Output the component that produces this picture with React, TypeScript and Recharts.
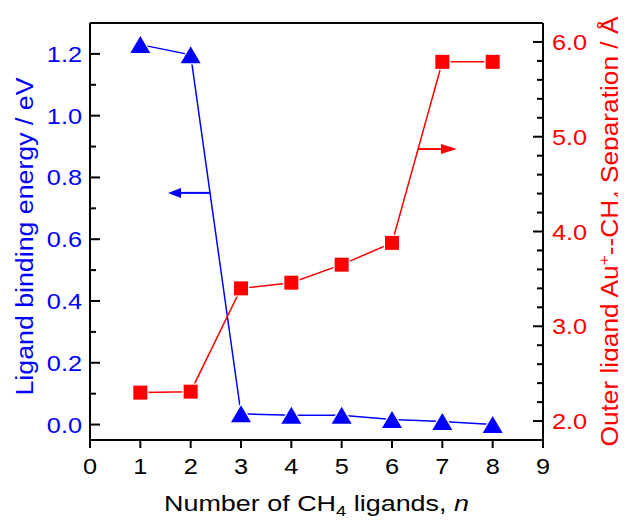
import React from "react";
import { ComposedChart, Line, XAxis, YAxis, ReferenceLine } from "recharts";

const nValues = [1, 2, 3, 4, 5, 6, 7, 8];
const bindingEnergy = [1.23, 1.197, 0.035, 0.03, 0.03, 0.016, 0.01, 0.0];
const separation = [2.3, 2.31, 3.4, 3.46, 3.65, 3.88, 5.79, 5.79];

const xTicks = [0, 1, 2, 3, 4, 5, 6, 7, 8, 9];
const leftMajor = [0.0, 0.2, 0.4, 0.6, 0.8, 1.0, 1.2];
const leftMinor = [0.1, 0.3, 0.5, 0.7, 0.9, 1.1];
const rightMajor = [2.0, 3.0, 4.0, 5.0, 6.0];
const rightMinor = [2.2, 2.4, 2.6, 2.8, 3.2, 3.4, 3.6, 3.8, 4.2, 4.4, 4.6, 4.8, 5.2, 5.4, 5.6, 5.8];

const leftDomain: [number, number] = [-0.05, 1.3];
const rightDomain: [number, number] = [1.8, 6.2];

const blueArrow = { y: 0.75, from: 2.385, to: 1.55 };
const redArrow = { y: 4.87, from: 6.52, to: 7.29 };

const data = nValues.map((n, i) => ({ n, be: bindingEnergy[i], sep: separation[i] }));

const FONT = "'Liberation Sans', Arial, sans-serif";
const BLUE = "#0000FF";
const RED = "#FF0000";
const FS = 22;
const SX = 1.15;
const TM = 8;

const isIn = (arr: number[], v: number) => arr.some((a) => Math.abs(a - v) < 1e-6);

const LeftTick = (props: any) => {
  const { x, y, payload } = props;
  const v = payload.value as number;
  const major = isIn(leftMajor, v);
  const ax = x + TM;
  return (
    <g>
      <line x1={ax} x2={ax + (major ? 10 : 6)} y1={y} y2={y} stroke="#000" strokeWidth={2} />
      {major && (
        <text transform={`translate(${x},${y + 8}) scale(${SX},1)`} textAnchor="end" fill={BLUE} fontSize={FS} fontFamily={FONT}>
          {v.toFixed(1)}
        </text>
      )}
    </g>
  );
};

const RightTick = (props: any) => {
  const { x, y, payload } = props;
  const v = payload.value as number;
  const major = isIn(rightMajor, v);
  const ax = x - TM - 1;
  return (
    <g>
      <line x1={ax} x2={ax - (major ? 10 : 6)} y1={y} y2={y} stroke="#000" strokeWidth={2} />
      {major && (
        <text transform={`translate(${x},${y + 8}) scale(${SX},1)`} textAnchor="start" fill={RED} fontSize={FS} fontFamily={FONT}>
          {v.toFixed(1)}
        </text>
      )}
    </g>
  );
};

const BottomTick = (props: any) => {
  const { x, y, payload } = props;
  return (
    <text transform={`translate(${x},${y + 16}) scale(${SX},1)`} textAnchor="middle" fill="#000" fontSize={FS} fontFamily={FONT}>
      {String(payload.value)}
    </text>
  );
};

const Triangle = (props: any) => {
  const { cx, cy } = props;
  if (cx == null || cy == null) return <g />;
  const w = 10, h = 8.5;
  return (
    <polygon
      points={`${cx},${cy - h} ${cx - w},${cy + h} ${cx + w},${cy + h}`}
      fill={BLUE}
      stroke="#fff"
      strokeWidth={2.5}
      paintOrder="stroke"
    />
  );
};

const Square = (props: any) => {
  const { cx, cy } = props;
  if (cx == null || cy == null) return <g />;
  const s = 7;
  return (
    <rect x={cx - s} y={cy - s} width={2 * s} height={2 * s} fill={RED} stroke="#fff" strokeWidth={2.5} paintOrder="stroke" />
  );
};

const arrowShape = (color: string, headLen: number, headW: number) => (p: any) => {
  const { x1, y1, x2, y2 } = p;
  const dir = x2 > x1 ? 1 : -1;
  const bx = x2 - dir * headLen;
  return (
    <g>
      <line x1={x1} y1={y1} x2={bx} y2={y2} stroke={color} strokeWidth={2} />
      <polygon points={`${x2},${y2} ${bx},${y2 - headW} ${bx},${y2 + headW}`} fill={color} />
    </g>
  );
};

const XLabel = (props: any) => {
  const { viewBox } = props;
  const cx = viewBox.x + viewBox.width / 2;
  const y = viewBox.y + 71;
  return (
    <text x={cx} y={y} textAnchor="middle" fontSize={FS} fontFamily={FONT} fill="#000" textLength={305} lengthAdjust="spacingAndGlyphs">
      Number of CH
      <tspan dy={5} fontSize={15}>4</tspan>
      <tspan dy={-5}> ligands,  </tspan>
      <tspan fontStyle="italic">n</tspan>
    </text>
  );
};

const LeftLabel = (props: any) => {
  const { viewBox } = props;
  const x = viewBox.x + 25;
  const y = viewBox.y + viewBox.height / 2 + 5;
  return (
    <text x={x} y={y} transform={`rotate(-90, ${x}, ${y})`} textAnchor="middle" fontSize={23} fontFamily={FONT} fill={BLUE} textLength={318} lengthAdjust="spacingAndGlyphs">
      Ligand binding energy / eV
    </text>
  );
};

const RightLabel = (props: any) => {
  const { viewBox } = props;
  const x = viewBox.x + 75;
  const y = viewBox.y + viewBox.height / 2;
  return (
    <text x={x} y={y} transform={`rotate(-90, ${x}, ${y})`} textAnchor="middle" fontSize={23} fontFamily={FONT} fill={RED} textLength={430} lengthAdjust="spacingAndGlyphs">
      Outer ligand Au
      <tspan dy={-9} fontSize={15}>+</tspan>
      <tspan dy={9}>--CH</tspan>
      <tspan dy={6} fontSize={15}>4</tspan>
      <tspan dy={-6}> Separation / Å</tspan>
    </text>
  );
};

export default function App() {
  return (
    <ComposedChart width={618} height={512} data={data} margin={{ top: 15, right: 0, bottom: 0, left: 0 }}>
      <XAxis
        dataKey="n"
        type="number"
        domain={[0, 9]}
        ticks={xTicks}
        interval={0}
        tickSize={8}
        tickMargin={10}
        height={80}
        axisLine={{ stroke: "#000", strokeWidth: 2 }}
        tickLine={{ stroke: "#000", strokeWidth: 2 }}
        tick={<BottomTick />}
        label={<XLabel />}
      />
      <YAxis
        yAxisId="left"
        orientation="left"
        domain={leftDomain}
        allowDataOverflow
        ticks={[...leftMajor, ...leftMinor].sort((a, b) => a - b)}
        interval={0}
        width={82}
        tickSize={0}
        tickMargin={TM}
        tickLine={false}
        axisLine={{ stroke: "#000", strokeWidth: 2 }}
        tick={<LeftTick />}
        label={<LeftLabel />}
      />
      <YAxis
        yAxisId="right"
        orientation="right"
        domain={rightDomain}
        allowDataOverflow
        ticks={[...rightMajor, ...rightMinor].sort((a, b) => a - b)}
        interval={0}
        width={83}
        tickSize={0}
        tickMargin={TM + 1}
        tickLine={false}
        axisLine={{ stroke: "#000", strokeWidth: 2 }}
        tick={<RightTick />}
        label={<RightLabel />}
      />
      <ReferenceLine yAxisId="left" y={leftDomain[1]} stroke="#000" strokeWidth={2} />
      <Line
        yAxisId="left"
        dataKey="be"
        stroke={BLUE}
        strokeWidth={1.5}
        dot={<Triangle />}
        activeDot={false}
        isAnimationActive={false}
      />
      <Line
        yAxisId="right"
        dataKey="sep"
        stroke={RED}
        strokeWidth={1.5}
        dot={<Square />}
        activeDot={false}
        isAnimationActive={false}
      />
      <ReferenceLine
        yAxisId="left"
        segment={[{ x: blueArrow.from, y: blueArrow.y }, { x: blueArrow.to, y: blueArrow.y }]}
        shape={arrowShape(BLUE, 13, 5)}
      />
      <ReferenceLine
        yAxisId="right"
        segment={[{ x: redArrow.from, y: redArrow.y }, { x: redArrow.to, y: redArrow.y }]}
        shape={arrowShape(RED, 16, 5)}
      />
    </ComposedChart>
  );
}
